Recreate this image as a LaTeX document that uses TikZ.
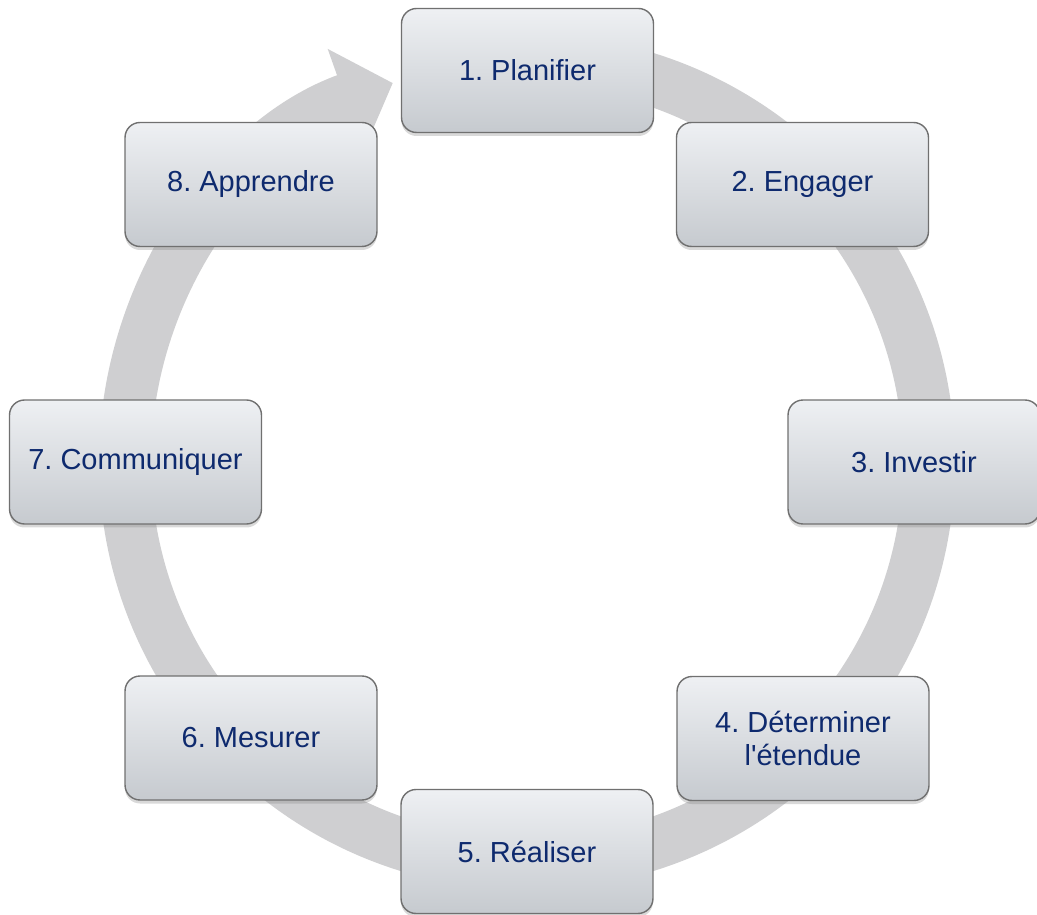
\documentclass[tikz,border=0pt]{standalone}
\usepackage{tikz}
\usetikzlibrary{arrows.meta,positioning,shadows}
\usepackage{fontspec}
\setmainfont{Liberation Sans}[Ligatures=TeXOff]
\usepackage{xcolor}
\definecolor{ringgray}{RGB}{207,207,209}
\definecolor{boxtop}{RGB}{238,240,243}
\definecolor{boxbottom}{RGB}{198,202,207}
\definecolor{boxline}{RGB}{112,112,112}
\definecolor{navy}{RGB}{14,42,110}
\frenchspacing

\begin{document}
\begin{tikzpicture}[x=0.02cm,y=0.02cm]
  \tikzset{phase/.style={draw=boxline,line width=0.8pt,rounded corners=0.3cm,
      top color=boxtop,bottom color=boxbottom,
      minimum width=5.04cm,minimum height=2.48cm,
      text=navy,font=\fontsize{16.5}{19}\selectfont,align=center,
      drop shadow={opacity=0.3,shadow xshift=0pt,shadow yshift=-2pt}}}
  \tikzset{cycle/.style={draw=ringgray,line width=1.04cm,
      -{Triangle[width=2.1cm,length=1cm]}}}
  \useasboundingbox (-527,-453) rectangle (510,462);

  % ring under the boxes
  \coordinate (c) at (0,0);
  \coordinate (ringstart) at (90:402);
  \draw[cycle] (ringstart) arc[start angle=90,end angle=-250.5,radius=402] coordinate (ringend);

  \node[phase] (plan)   at (0.5,391.5)   {1. Planifier};
  \node[phase] (engage) at (275.5,277.5) {2. Engager};
  \node[phase] (invest) at (387,0)       {3. Investir};
  \node[phase] (scope)  at (276,-276.5)  {4. Déterminer\\l'étendue};
  \node[phase] (deliver) at (0,-389.5)   {5. Réaliser};
  \node[phase] (measure) at (-276,-276)  {6. Mesurer};
  \node[phase] (comm)   at (-391.5,0)    {7. Communiquer};
  \node[phase] (learn)  at (-276,277.5)  {8. Apprendre};
\end{tikzpicture}
\end{document}
